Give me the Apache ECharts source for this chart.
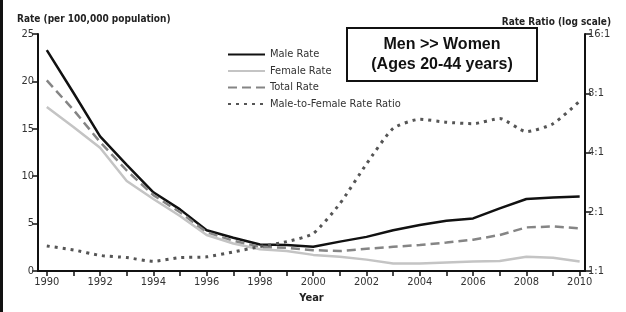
<!DOCTYPE html>
<html>
<head>
<meta charset="utf-8">
<script src="https://cdn.jsdelivr.net/npm/echarts@6/dist/echarts.min.js"></script>
<style>
  html, body { margin: 0; padding: 0; background: #fff; }
  #chart { width: 626px; height: 312px; }
</style>
</head>
<body>
<div id="chart"></div>
<script>
// data
var years = [1990, 1991, 1992, 1993, 1994, 1995, 1996, 1997, 1998, 1999, 2000,
             2001, 2002, 2003, 2004, 2005, 2006, 2007, 2008, 2009, 2010];
var labelYears = [1990, 1992, 1994, 1996, 1998, 2000, 2002, 2004, 2006, 2008, 2010];
var maleRate   = [23.3, 18.8, 14.2, 11.2, 8.3, 6.5, 4.3, 3.5, 2.8, 2.75, 2.55,
                  3.1, 3.6, 4.3, 4.85, 5.3, 5.55, 6.6, 7.6, 7.75, 7.85];
var femaleRate = [17.3, 15.2, 13.0, 9.5, 7.6, 5.8, 3.8, 2.9, 2.3, 2.1, 1.7,
                  1.5, 1.2, 0.8, 0.8, 0.9, 1.0, 1.05, 1.5, 1.4, 1.0];
var totalRate  = [20.1, 17.0, 13.6, 10.6, 8.0, 6.2, 4.1, 3.2, 2.55, 2.45, 2.2,
                  2.1, 2.35, 2.55, 2.75, 3.0, 3.3, 3.8, 4.6, 4.7, 4.5];
var rateRatio  = [1.34, 1.28, 1.2, 1.17, 1.12, 1.17, 1.18, 1.25, 1.33, 1.41, 1.55,
                  2.2, 3.5, 5.3, 5.9, 5.7, 5.6, 5.95, 5.1, 5.6, 7.3];
var ratioTicks = [1, 2, 4, 8, 16];

var FONT = "'Liberation Sans Narrow', 'DejaVu Sans Condensed', sans-serif";

function pairs(vals) {
  var out = [];
  for (var i = 0; i < years.length; i++) out.push([years[i], vals[i]]);
  return out;
}

var chart = echarts.init(document.getElementById('chart'), null, { renderer: 'canvas' });

var option = {
  backgroundColor: '#fff',
  animation: false,
  textStyle: { fontFamily: FONT },
  title: [
    { text: 'Rate (per 100,000 population)', left: 12, top: 9,
      textStyle: { fontFamily: FONT, fontSize: 10, fontWeight: 'bold', color: '#222' } },
    { text: 'Rate Ratio (log scale)', right: 10, top: 12,
      textStyle: { fontFamily: FONT, fontSize: 10, fontWeight: 'bold', color: '#222' } }
  ],
  legend: {
    orient: 'vertical',
    left: 222,
    top: 44,
    itemWidth: 37,
    itemHeight: 10,
    itemGap: 5.5,
    itemStyle: { opacity: 0, borderWidth: 0 },
    textStyle: { fontFamily: FONT, fontSize: 11, color: '#333' },
    data: ['Male Rate', 'Female Rate', 'Total Rate', 'Male-to-Female Rate Ratio']
  },
  grid: { left: 38, right: 41, top: 34, bottom: 41 },
  xAxis: {
    type: 'value',
    min: 1989.67,
    max: 2010.2,
    name: 'Year',
    nameLocation: 'middle',
    nameGap: 22,
    nameTextStyle: { fontFamily: FONT, fontSize: 11, fontWeight: 'bold', color: '#222' },
    axisLine: { show: true, lineStyle: { color: '#111', width: 2 } },
    axisTick: { show: true, length: 5, customValues: years, lineStyle: { color: '#111', width: 1.5 } },
    axisLabel: { customValues: labelYears, margin: 6, fontSize: 11, color: '#333', fontFamily: FONT,
                 formatter: function (v) { return String(Math.round(v)); } },
    splitLine: { show: false }
  },
  yAxis: [
    {
      type: 'value',
      min: 0,
      max: 25,
      interval: 5,
      position: 'left',
      axisLine: { show: true, lineStyle: { color: '#111', width: 2 } },
      axisTick: { show: true, length: 6, lineStyle: { color: '#111', width: 1.5 } },
      axisLabel: { margin: 4, fontSize: 11, color: '#333', fontFamily: FONT },
      splitLine: { show: false }
    },
    {
      type: 'log',
      logBase: 2,
      min: 1,
      max: 16,
      position: 'right',
      axisLine: { show: true, lineStyle: { color: '#111', width: 2 } },
      axisTick: { show: true, length: 6, lineStyle: { color: '#111', width: 1.5 } },
      axisLabel: { margin: 3, fontSize: 11, color: '#333', fontFamily: FONT,
                   customValues: ratioTicks,
                   formatter: function (v) { return Math.round(v) + ':1'; } },
      splitLine: { show: false }
    }
  ],
  series: [
    { name: 'Male Rate', type: 'line', yAxisIndex: 0, symbol: 'none',
      data: pairs(maleRate), color: '#111',
      lineStyle: { color: '#111', width: 2.5 } },
    { name: 'Female Rate', type: 'line', yAxisIndex: 0, symbol: 'none',
      data: pairs(femaleRate), color: '#c4c4c4',
      lineStyle: { color: '#c4c4c4', width: 2.5 } },
    { name: 'Total Rate', type: 'line', yAxisIndex: 0, symbol: 'none',
      data: pairs(totalRate), color: '#858585',
      lineStyle: { color: '#858585', width: 2.5, type: [9, 5] } },
    { name: 'Male-to-Female Rate Ratio', type: 'line', yAxisIndex: 1, symbol: 'none',
      data: pairs(rateRatio), smooth: 0.2, color: '#555',
      lineStyle: { color: '#555', width: 3, type: [3, 5] } }
  ],
  graphic: [
    { type: 'rect', shape: { x: 347, y: 28, width: 190, height: 53 },
      style: { fill: '#fff', stroke: '#111', lineWidth: 2 }, z: 10 },
    { type: 'text', x: 442, y: 55, z: 11,
      style: { text: 'Men >> Women\n(Ages 20-44 years)', align: 'center', verticalAlign: 'middle',
               font: 'bold 16px "Liberation Sans", Arial, sans-serif', lineHeight: 20, fill: '#111' } },
    { type: 'rect', shape: { x: 0, y: 0, width: 3, height: 312 },
      style: { fill: '#111' } }
  ]
};

chart.setOption(option);
</script>
</body>
</html>
